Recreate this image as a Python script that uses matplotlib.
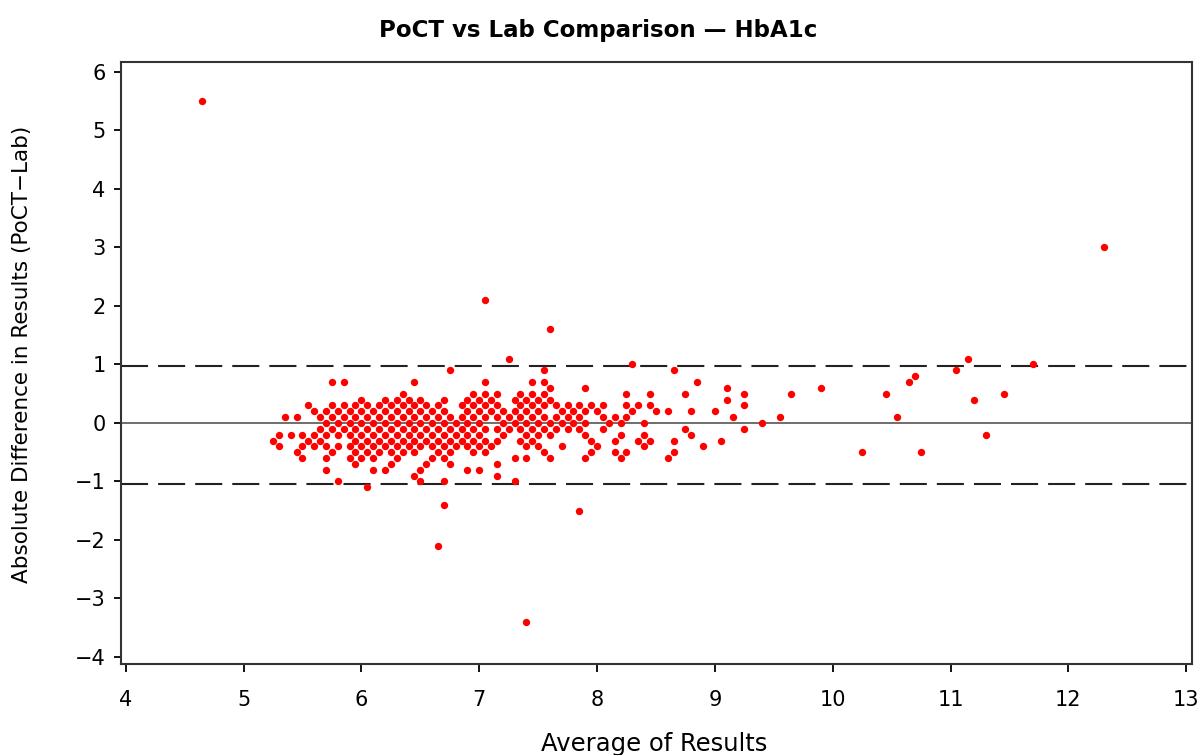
import matplotlib
matplotlib.use("Agg")
from matplotlib import pyplot as plt

diff_levels = [5.5, 3.0, 2.1, 1.6, 1.1, 1.0, 0.9, 0.8, 0.7, 0.6, 0.5, 0.4, 0.3, 0.2, 0.1, 0.0,
               -0.1, -0.2, -0.3, -0.4, -0.5, -0.6, -0.7, -0.8, -0.9, -1.0, -1.1, -1.4, -1.5,
               -2.1, -3.4]

avg_by_level = [
    [4.65],
    [12.3],
    [7.05],
    [7.6],
    [7.25, 11.15],
    [8.3, 11.7],
    [6.75, 7.55, 8.65, 11.05],
    [10.7],
    [5.75, 5.85, 6.45, 7.05, 7.45, 7.55, 8.85, 10.65],
    [7.6, 7.9, 9.1, 9.9],
    [6.35, 6.95, 7.05, 7.15, 7.35, 7.45, 7.55, 8.25, 8.45, 8.75, 9.25, 9.65, 10.45, 11.45],
    [6.0, 6.2, 6.3, 6.4, 6.5, 6.7, 6.9, 7.0, 7.1, 7.3, 7.4, 7.5, 7.6, 9.1, 11.2],
    [5.55, 5.75, 5.85, 5.95, 6.05, 6.15, 6.25, 6.35, 6.45, 6.55, 6.65, 6.85, 6.95, 7.05,
     7.15, 7.35, 7.45, 7.55, 7.65, 7.75, 7.85, 7.95, 8.05, 8.25, 8.35, 8.45, 9.25],
    [5.6, 5.7, 5.8, 5.9, 6.0, 6.1, 6.2, 6.3, 6.4, 6.5, 6.6, 6.7, 6.9, 7.0, 7.1, 7.2, 7.3,
     7.4, 7.5, 7.7, 7.8, 7.9, 8.0, 8.3, 8.5, 8.6, 8.8, 9.0],
    [5.35, 5.45, 5.65, 5.75, 5.85, 5.95, 6.05, 6.15, 6.25, 6.35, 6.45, 6.55, 6.65, 6.75,
     6.85, 6.95, 7.05, 7.15, 7.25, 7.35, 7.45, 7.55, 7.65, 7.75, 7.85, 8.05, 8.15, 8.25,
     9.15, 9.55, 10.55],
    [5.7, 5.8, 5.9, 6.0, 6.1, 6.2, 6.3, 6.4, 6.5, 6.6, 6.7, 6.8, 6.9, 7.0, 7.2, 7.3, 7.4,
     7.5, 7.6, 7.7, 7.8, 7.9, 8.1, 8.2, 8.4, 9.4],
    [5.65, 5.75, 5.85, 5.95, 6.05, 6.15, 6.25, 6.35, 6.45, 6.55, 6.65, 6.75, 6.85, 6.95,
     7.05, 7.15, 7.25, 7.35, 7.45, 7.55, 7.65, 7.75, 7.85, 8.05, 8.75, 9.25],
    [5.3, 5.4, 5.5, 5.6, 5.7, 5.8, 5.9, 6.0, 6.1, 6.2, 6.3, 6.4, 6.5, 6.6, 6.7, 6.8, 6.9,
     7.0, 7.2, 7.4, 7.5, 7.6, 7.9, 8.2, 8.4, 8.8, 11.3],
    [5.25, 5.55, 5.65, 5.95, 6.05, 6.15, 6.25, 6.35, 6.45, 6.55, 6.65, 6.75, 6.85, 6.95,
     7.05, 7.15, 7.35, 7.45, 7.95, 8.15, 8.35, 8.45, 8.65, 9.05],
    [5.3, 5.5, 5.6, 5.7, 5.8, 5.9, 6.0, 6.1, 6.2, 6.3, 6.4, 6.5, 6.6, 6.7, 6.8, 6.9, 7.0,
     7.1, 7.4, 7.5, 7.7, 8.0, 8.4, 8.9],
    [5.45, 5.75, 5.95, 6.05, 6.15, 6.25, 6.35, 6.45, 6.65, 6.75, 6.95, 7.05, 7.55, 7.95,
     8.15, 8.25, 8.65, 10.25, 10.75],
    [5.5, 5.7, 5.9, 6.0, 6.1, 6.3, 6.6, 6.7, 7.3, 7.4, 7.6, 7.9, 8.2, 8.6],
    [5.95, 6.25, 6.55, 6.75, 7.15],
    [5.7, 6.1, 6.2, 6.5, 6.9, 7.0],
    [6.45, 7.15],
    [5.8, 6.5, 6.7, 7.3],
    [6.05],
    [6.7],
    [7.85],
    [6.65],
    [7.4],
]

mean_diff = 0.0
upper_limit = 0.97
lower_limit = -1.04

avg_results = []
abs_diff = []
for level, xs in zip(diff_levels, avg_by_level):
    avg_results += xs
    abs_diff += [level] * len(xs)

plt.rcParams['font.family'] = ['DejaVu Sans']

fig = plt.figure(figsize=(12.03, 7.55), dpi=100)
ax = fig.add_axes([0.1006, 0.1205, 0.8903, 0.7974])

ax.axhline(mean_diff, color='#555555', lw=1.2, zorder=1)
for lim in (upper_limit, lower_limit):
    ax.axhline(lim, color='#222222', lw=1.5, dashes=(13, 4.8), zorder=1)

ax.scatter(avg_results, abs_diff, s=28, c='#ff0000', marker='o', linewidths=0, zorder=2)

ax.set_xlim(3.96, 13.05)
ax.set_ylim(-4.12, 6.17)
ax.set_xticks(range(4, 14))
ax.set_yticks(range(-4, 7))
ax.set_yticklabels(['\u2212' + str(-v) if v < 0 else str(v) for v in range(-4, 7)])

for sp in ax.spines.values():
    sp.set_color('#333333')
    sp.set_linewidth(1.5)
ax.tick_params(axis='x', direction='out', length=6, width=1.3, labelsize=15, pad=13)
ax.tick_params(axis='y', direction='out', length=5, width=1.3, labelsize=15, pad=6)

fig.text(0.497, 0.96, 'PoCT vs Lab Comparison \u2014 HbA1c', ha='center', va='center',
         fontsize=16.5, fontweight='bold')
fig.text(0.544, 0.014, 'Average of Results', ha='center', va='center', fontsize=17.5)
fig.text(0.018, 0.53, 'Absolute Difference in Results (PoCT\u2212Lab)', ha='center',
         va='center', rotation=90, fontsize=15.5)

fig.savefig('out.png', dpi=100)
